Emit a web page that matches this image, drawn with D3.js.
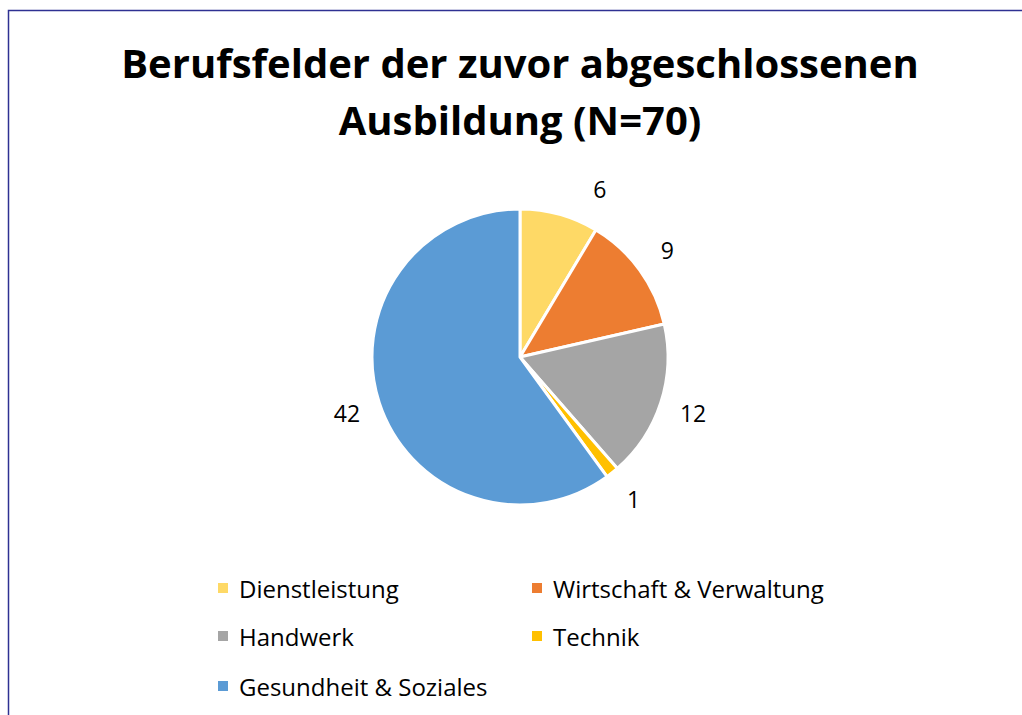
<!DOCTYPE html>
<html>
<head>
<meta charset="utf-8">
<script src="https://cdn.jsdelivr.net/npm/d3@7"></script>
<style>
  body { margin: 0; background: #fff; }
  svg { display: block; font-family: "Open Sans", "Noto Sans", sans-serif; }
</style>
</head>
<body>
<svg></svg>
<script>
// data
const categories = ["Dienstleistung", "Wirtschaft & Verwaltung", "Handwerk", "Technik", "Gesundheit & Soziales"]
const values = [6, 9, 12, 1, 42]
const colors = ["#FED966", "#ED7D31", "#A5A5A5", "#FFC000", "#5B9BD5"]
const titleLines = ["Berufsfelder der zuvor abgeschlossenen", "Ausbildung (N=70)"]

const svg = d3.select("svg")
  .attr("width", 1022)
  .attr("height", 715)

// frame (top + left edge only visible)
svg.append("path")
  .attr("d", "M8.5,715 L8.5,10.5 L1022,10.5")
  .attr("fill", "none")
  .attr("stroke", "#2E3192")
  .attr("stroke-width", 1.5)

// title
const title = svg.append("text")
  .attr("text-anchor", "middle")
  .attr("font-weight", "bold")
  .attr("font-size", 40)
  .attr("fill", "#000")

title.selectAll("tspan")
  .data(titleLines)
  .enter()
  .append("tspan")
  .attr("x", 520)
  .attr("y", (d, i) => 78 + i * 57)
  .text(d => d)

// pie
const cx = 520, cy = 357, r = 148

const pie = d3.pie().sort(null).value(d => d)
const arcs = pie(values)

const arc = d3.arc().innerRadius(0).outerRadius(r)
const labelArc = d3.arc().innerRadius(182).outerRadius(182)

const g = svg.append("g")
  .attr("transform", `translate(${cx},${cy})`)

g.selectAll("path")
  .data(arcs)
  .enter()
  .append("path")
  .attr("d", arc)
  .attr("fill", (d, i) => colors[i])
  .attr("stroke", "#fff")
  .attr("stroke-width", 3)
  .attr("stroke-linejoin", "round")

// data labels, first one is pushed out the way excel does
g.selectAll("text.lbl")
  .data(arcs)
  .enter()
  .append("text")
  .attr("class", "lbl")
  .attr("text-anchor", "middle")
  .attr("dominant-baseline", "central")
  .attr("font-size", 23)
  .attr("fill", "#000")
  .attr("transform", (d, i) => {
    let a = (d.startAngle + d.endAngle) / 2
    if (i == 0) a = 26 * Math.PI / 180
    const p = labelArc.centroid({startAngle: a, endAngle: a})
    if (i == 0) p[1] -= 4
    return `translate(${p[0]},${p[1]})`
  })
  .text(d => d.data)

// legend
const legendCols = [218, 532]
const legendRows = [588, 636, 686]

const legend = svg.append("g")
  .selectAll("g")
  .data(categories)
  .enter()
  .append("g")
  .attr("transform", (d, i) => `translate(${legendCols[i % 2]},${legendRows[Math.floor(i / 2)]})`)

legend.append("rect")
  .attr("x", 0)
  .attr("y", -5)
  .attr("width", 10)
  .attr("height", 10)
  .attr("fill", (d, i) => colors[i])

legend.append("text")
  .attr("x", 21)
  .attr("dominant-baseline", "central")
  .attr("font-size", 24)
  .attr("textLength", null)
  .attr("fill", "#000")
  .text(d => d)
</script>
</body>
</html>
